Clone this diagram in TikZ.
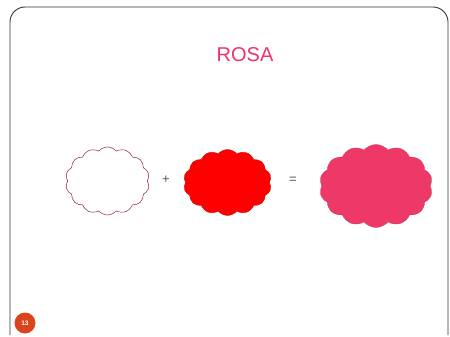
\documentclass[tikz,border=0pt]{standalone}
\usepackage{fontspec}
\setmainfont{Liberation Sans}
\usetikzlibrary{shapes.symbols}
\definecolor{rosa}{HTML}{EE3868}
\definecolor{titlecol}{HTML}{F0326A}
\definecolor{badge}{HTML}{D9441C}
\definecolor{edge}{HTML}{8E2434}
\tikzset{
  puff/.style={cloud, cloud puffs=14, cloud puff arc=100, inner sep=0pt},
  op/.style={font=\fontsize{13}{13}\selectfont, text=black!65}
}
\begin{document}
\begin{tikzpicture}[x=1pt,y=-1pt]
\useasboundingbox (0,0) rectangle (450,337);
\draw[black!80, line width=0.9pt, rounded corners=15pt] (10,335) -- (10,7) -- (448,7) -- (448,335);
\node[text=titlecol, font=\fontsize{20}{20}\selectfont] (title) at (245,55) {ROSA};
\node[puff, draw=edge, line width=0.5pt, fill=white, minimum width=84pt, minimum height=68pt] (white) at (107.5,181) {};
\node[op] (plus) at (166,180) {+};
\node[puff, fill=red, draw=red!80!black, line width=0.3pt, minimum width=88pt, minimum height=66pt] (red) at (227.5,182.5) {};
\node[op] (eq) at (293,180) {=};
\node[puff, fill=rosa, draw=rosa!85!black, line width=0.3pt, minimum width=113pt, minimum height=83pt] (pink) at (376,186) {};
\node[circle, fill=badge, minimum size=21pt, inner sep=0pt, text=white, font=\fontsize{6.5}{6.5}\selectfont\bfseries] (num) at (25,323) {13};
\end{tikzpicture}
\end{document}
